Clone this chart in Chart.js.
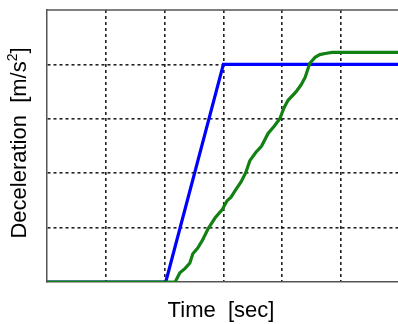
<!DOCTYPE html>
<html>
<head>
<meta charset="utf-8">
<script src="https://cdn.jsdelivr.net/npm/chart.js@4.4.0/dist/chart.umd.min.js"></script>
<style>
  html, body { margin: 0; padding: 0; background: #fff; }
  #wrap { width: 398px; height: 324px; }
</style>
</head>
<body>
<div id="wrap"><canvas id="chart" width="398" height="324"></canvas></div>
<script>
// commanded deceleration (blue) - step ramp
const cmdTime = [0, 2.02, 3.0, 6];
const cmdDecel = [0, 0, 4.0, 4.0];

// measured deceleration (green)
const measTime = [0, 2.18, 2.26, 2.35, 2.43, 2.48, 2.56, 2.64, 2.74, 2.86, 2.98, 3.06, 3.13, 3.2, 3.3, 3.38, 3.45, 3.55, 3.65, 3.76, 3.86, 3.96, 4.03, 4.1, 4.23, 4.32, 4.39, 4.47, 4.56, 4.64, 4.73, 4.85, 6];
const measDecel = [0, 0, 0.17, 0.25, 0.35, 0.52, 0.62, 0.76, 0.98, 1.18, 1.33, 1.49, 1.56, 1.68, 1.84, 2.01, 2.23, 2.38, 2.5, 2.73, 2.86, 3.0, 3.2, 3.34, 3.49, 3.62, 3.76, 4.02, 4.13, 4.18, 4.2, 4.22, 4.22];

const gridTicks = [1, 2, 3, 4, 5];

const toXY = (xs, ys) => xs.map((x, i) => ({ x: x, y: ys[i] }));

// axis titles + top frame line
const frame = {
  id: 'frame',
  afterDraw(chart) {
    const { ctx, chartArea: a } = chart;
    ctx.save();
    ctx.strokeStyle = '#555';
    ctx.lineWidth = 1.5;
    ctx.beginPath();
    ctx.moveTo(a.left, a.top);
    ctx.lineTo(a.right, a.top);
    ctx.stroke();

    ctx.fillStyle = '#000';
    ctx.font = '22px "Liberation Sans", Arial, sans-serif';
    ctx.textAlign = 'center';
    ctx.textBaseline = 'middle';
    ctx.fillText('Time  [sec]', 221, 311);

    // rotated y title with superscript
    const main = 'Deceleration  [m/s';
    ctx.translate(20, 143);
    ctx.rotate(-Math.PI / 2);
    ctx.textAlign = 'left';
    const w1 = ctx.measureText(main).width;
    ctx.font = '14px "Liberation Sans", Arial, sans-serif';
    const w2 = ctx.measureText('2').width;
    ctx.font = '22px "Liberation Sans", Arial, sans-serif';
    const w3 = ctx.measureText(']').width;
    const x0 = -(w1 + w2 + w3) / 2;
    ctx.fillText(main, x0, 0);
    ctx.font = '14px "Liberation Sans", Arial, sans-serif';
    ctx.fillText('2', x0 + w1, -7);
    ctx.font = '22px "Liberation Sans", Arial, sans-serif';
    ctx.fillText(']', x0 + w1 + w2, 0);
    ctx.restore();
  }
};

const gridColor = c => (gridTicks.includes(c.tick && c.tick.value) ? '#222' : 'rgba(0,0,0,0)');

new Chart(document.getElementById('chart').getContext('2d'), {
  type: 'scatter',
  data: {
    datasets: [
      {
        label: 'measured',
        data: toXY(measTime, measDecel),
        showLine: true,
        borderColor: '#128012',
        borderWidth: 3.2,
        pointRadius: 0,
        tension: 0
      },
      {
        label: 'command',
        data: toXY(cmdTime, cmdDecel),
        showLine: true,
        borderColor: '#0000ff',
        borderWidth: 3.2,
        pointRadius: 0,
        tension: 0
      }
    ]
  },
  options: {
    responsive: false,
    animation: false,
    layout: { padding: { left: 47, top: 10, right: 0, bottom: 42 } },
    plugins: { legend: { display: false }, tooltip: { enabled: false } },
    scales: {
      x: {
        type: 'linear',
        min: 0,
        max: 5.97,
        afterBuildTicks: s => { s.ticks = gridTicks.map(v => ({ value: v })); },
        ticks: { display: false },
        grid: { color: gridColor, lineWidth: 1.6, drawTicks: false },
        border: { display: true, color: '#555', width: 1.5, dash: [3, 3] }
      },
      y: {
        type: 'linear',
        min: 0,
        max: 5,
        afterBuildTicks: s => { s.ticks = [1, 2, 3, 4].map(v => ({ value: v })); },
        ticks: { display: false },
        grid: { color: gridColor, lineWidth: 1.6, drawTicks: false },
        border: { display: true, color: '#555', width: 1.5, dash: [3, 3] }
      }
    }
  },
  plugins: [frame]
});
</script>
</body>
</html>
